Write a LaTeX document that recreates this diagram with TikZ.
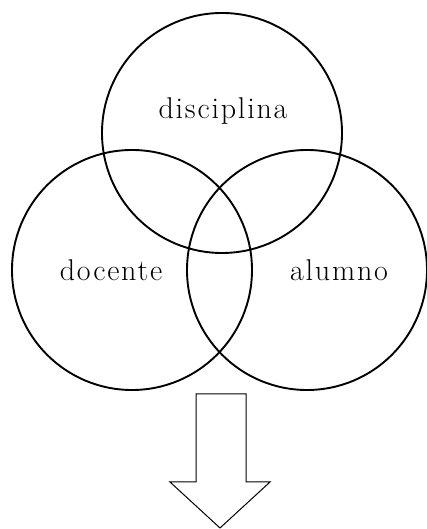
\documentclass[tikz,border=0pt]{standalone}
\usepackage{fontspec}
\setmainfont{Latin Modern Roman}[LetterSpace=6]
\begin{document}
\begin{tikzpicture}[x=1pt,y=1pt,
  ring/.style={draw=black,line width=1.9pt,circle,minimum size=240pt,inner sep=0pt},
  lbl/.style={anchor=base,font=\fontsize{30}{36}\selectfont}]
\useasboundingbox (0,0) rectangle (427,529);
\node[ring] (top) at (222,396) {};
\node[ring] (left) at (132,259) {};
\node[ring] (right) at (307,259) {};
\node[lbl] (tdisc) at (223,410) {disciplina};
\node[lbl] (tdoc) at (111,248) {docente};
\node[lbl] (talu) at (339,248) {alumno};
\draw[line width=1pt,line join=miter] (196,135) -- (246,135) -- (246,47) -- (270,47) -- (220,1) -- (170,47) -- (196,47) -- cycle;
\end{tikzpicture}
\end{document}
